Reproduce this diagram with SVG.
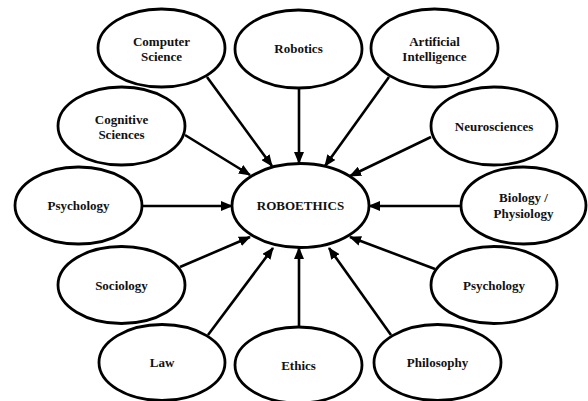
<svg xmlns="http://www.w3.org/2000/svg" width="588" height="401" viewBox="0 0 588 401">
<style>
.n ellipse{fill:#fff;stroke:#000;stroke-width:2.8}
.n text{font-family:"Liberation Serif","Times New Roman",serif;font-weight:bold;font-size:13px;text-anchor:middle;fill:#111}
#edges line{stroke:#000;stroke-width:2.6;marker-end:url(#ah)}
</style>
<defs>
<marker id="ah" markerUnits="userSpaceOnUse" markerWidth="12" markerHeight="10" refX="11" refY="5" orient="auto">
<path d="M0,0 L12,5 L0,10 Z" fill="#000"/>
</marker>
</defs>
<rect width="588" height="401" fill="#fff"/>
<g id="edges">
<line x1="207" y1="77" x2="272" y2="166"/>
<line x1="299" y1="88" x2="299" y2="163"/>
<line x1="389" y1="77" x2="325" y2="166"/>
<line x1="431" y1="137" x2="350" y2="176"/>
<line x1="185" y1="135" x2="250" y2="175"/>
<line x1="142" y1="206" x2="232" y2="206"/>
<line x1="461" y1="206" x2="369" y2="206"/>
<line x1="180" y1="267" x2="250" y2="237"/>
<line x1="208" y1="335" x2="273" y2="248"/>
<line x1="299" y1="327" x2="299" y2="248"/>
<line x1="391" y1="335" x2="329" y2="248"/>
<line x1="435" y1="269" x2="350" y2="237"/>
</g>
<g id="roboethics" class="n"><ellipse cx="300.5" cy="205.5" rx="68.5" ry="42"/><text x="300.5" y="210" font-size="12.5">ROBOETHICS</text></g>
<g id="computer-science" class="n"><ellipse cx="161.5" cy="48" rx="63.5" ry="39"/><text x="161.5" y="46">Computer</text><text x="161.5" y="61">Science</text></g>
<g id="robotics" class="n"><ellipse cx="298.5" cy="49" rx="63.5" ry="39"/><text x="298.5" y="53">Robotics</text></g>
<g id="artificial-intelligence" class="n"><ellipse cx="434.5" cy="48" rx="63.5" ry="39"/><text x="434.5" y="46">Artificial</text><text x="434.5" y="61">Intelligence</text></g>
<g id="cognitive-sciences" class="n"><ellipse cx="121.5" cy="126" rx="63.5" ry="39"/><text x="121.5" y="124">Cognitive</text><text x="121.5" y="139">Sciences</text></g>
<g id="neurosciences" class="n"><ellipse cx="494" cy="126" rx="63" ry="39"/><text x="494" y="131">Neurosciences</text></g>
<g id="psychology-left" class="n"><ellipse cx="78.5" cy="205.5" rx="63.5" ry="38.5"/><text x="78.5" y="210">Psychology</text></g>
<g id="biology-physiology" class="n"><ellipse cx="523.5" cy="205.5" rx="62.5" ry="38.5"/><text x="523.5" y="202">Biology /</text><text x="523.5" y="218">Physiology</text></g>
<g id="sociology" class="n"><ellipse cx="121.5" cy="285" rx="63.5" ry="38.5"/><text x="121.5" y="290">Sociology</text></g>
<g id="psychology-right" class="n"><ellipse cx="494" cy="285" rx="63" ry="38.5"/><text x="494" y="290">Psychology</text></g>
<g id="law" class="n"><ellipse cx="162" cy="362.5" rx="63" ry="38"/><text x="162" y="367">Law</text></g>
<g id="ethics" class="n"><ellipse cx="298.5" cy="365" rx="63.5" ry="38"/><text x="298.5" y="370">Ethics</text></g>
<g id="philosophy" class="n"><ellipse cx="437.5" cy="362.5" rx="63.5" ry="38"/><text x="437.5" y="367">Philosophy</text></g>
</svg>
